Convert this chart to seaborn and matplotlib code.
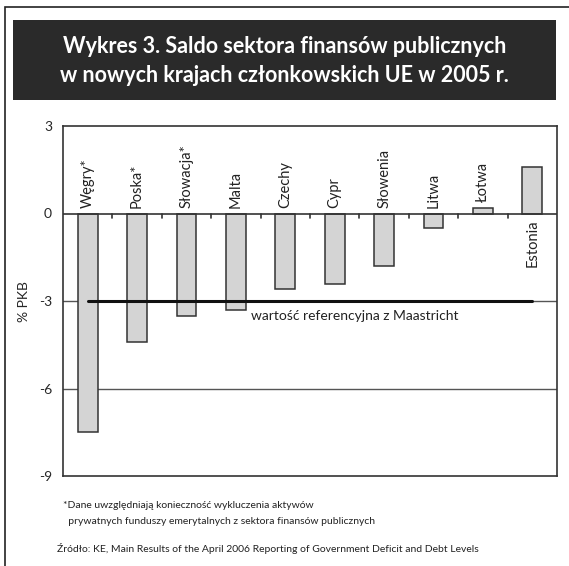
import numpy as np
import pandas as pd
import matplotlib
matplotlib.use("Agg")
import matplotlib.pyplot as plt
import seaborn as sns
from matplotlib.patches import Rectangle

# data
countries = ['Węgry*', 'Poska*', 'Słowacja*', 'Malta', 'Czechy', 'Cypr',
             'Słowenia', 'Litwa', 'Łotwa', 'Estonia']
saldo = [-7.5, -4.4, -3.5, -3.3, -2.6, -2.4, -1.8, -0.5, 0.2, 1.6]
maastricht = -3
y_ticks = [3, 0, -3, -6, -9]

title = "Wykres 3. Saldo sektora finansów publicznych\nw nowych krajach członkowskich UE w 2005 r."
note1 = "*Dane uwzględniają konieczność wykluczenia aktywów"
note2 = "  prywatnych funduszy emerytalnych z sektora finansów publicznych"
source = "Źródło: KE, Main Results of the April 2006 Reporting of Government Deficit and Debt Levels"

df = pd.DataFrame({'kraj': countries, 'saldo': saldo})

sns.set_style("white")
plt.rcParams['font.family'] = ['Lato', 'DejaVu Sans']

fig = plt.figure(figsize=(5.69, 5.66), dpi=100)

# outer frame and title box
fig.patches.append(Rectangle((5/569, -0.1), 1.2, 1 - 7/566 + 0.1, transform=fig.transFigure,
                             fill=False, edgecolor='#222222', lw=1.2))
fig.patches.append(Rectangle((13/569, 1 - 100/566), 543/569, 80/566, transform=fig.transFigure,
                             facecolor='#2a2a2a', edgecolor='none'))
fig.text(0.5, 1 - 61/566, title, ha='center', va='center', color='white',
         fontsize=15.5, fontweight='bold', linespacing=1.5)

ax = fig.add_axes([63/569, 1 - 476/566, 494/569, 350/566])
sns.barplot(data=df, x='kraj', y='saldo', ax=ax, color='#d4d4d4',
            edgecolor='#333333', linewidth=1.1, width=0.4, saturation=1, zorder=3)

ax.set_ylim(-9, 3)
ax.set_xlim(-0.5, len(countries) - 0.5)
ax.set_yticks(y_ticks)
ax.set_yticklabels([str(t) for t in y_ticks], fontsize=10)
ax.set_xticks([])
ax.set_xlabel('')
ax.set_ylabel('% PKB', fontsize=10, labelpad=6)
ax.tick_params(axis='y', direction='out', length=5, width=1, color='#333333', pad=3)
for s in ax.spines.values():
    s.set_color('#333333')
    s.set_linewidth(1.2)

# grid lines
for g in [-3, -6]:
    ax.axhline(g, color='#555555', lw=1.0, zorder=1)
ax.axhline(0, color='#333333', lw=1.2, zorder=4)

# small tick marks between categories on the zero line
for b in np.arange(len(countries) - 1) + 0.5:
    ax.plot([b, b], [0, -0.15], color='#333333', lw=1.2, zorder=4)

# Maastricht reference line
ax.plot([0, len(countries) - 1], [maastricht, maastricht], color='#111111', lw=2.2, zorder=5)
ax.text(5.4, maastricht - 0.3, 'wartość referencyjna z Maastricht', ha='center', va='top',
        fontsize=10, color='#222222')

# category labels
for i, (c, v) in enumerate(zip(countries, saldo)):
    if v > 0.5:
        ax.text(i, -0.2, c, rotation=90, ha='center', va='top', fontsize=10.5, color='#222222')
    else:
        ax.text(i, max(v, 0) + 0.2, c, rotation=90, ha='center', va='bottom', fontsize=10.5,
                color='#222222')

fig.text(63/569, 1 - 505/566, note1, fontsize=7.5, va='center', color='#222222')
fig.text(63/569, 1 - 521/566, note2, fontsize=7.5, va='center', color='#222222')
fig.text(57/569, 1 - 549/566, source, fontsize=7.5, va='center', color='#222222')

fig.savefig('out.png', dpi=100)
